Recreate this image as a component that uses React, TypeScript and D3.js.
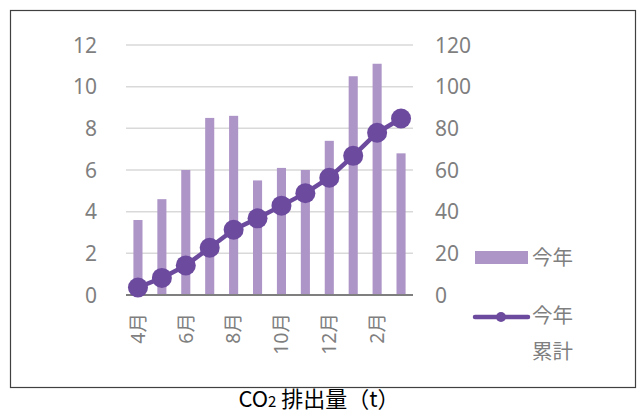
import * as d3 from 'd3';
import { useEffect, useRef } from 'react';

const months = ['4月', '5月', '6月', '7月', '8月', '9月', '10月', '11月', '12月', '1月', '2月', '3月'];
const thisYear = [3.6, 4.6, 6.0, 8.5, 8.6, 5.5, 6.1, 6.0, 7.4, 10.5, 11.1, 6.8];
const cumulative = [3.6, 8.2, 14.2, 22.7, 31.3, 36.8, 42.9, 48.9, 56.3, 66.8, 77.9, 84.7];
const leftTicks = [0, 2, 4, 6, 8, 10, 12];
const rightTicks = [0, 20, 40, 60, 80, 100, 120];
const shownMonths = ['4月', '6月', '8月', '10月', '12月', '2月'];

const FONT = '"Noto Sans", "Noto Sans CJK JP", sans-serif';
const BAR = '#ae95c8';
const LINE = '#6c4a9e';
const TEXT = '#7f7f7f';

export default function App() {
  const ref = useRef<SVGSVGElement>(null);

  useEffect(() => {
    const svg = d3.select(ref.current);
    svg.selectAll('*').remove();

    const left = 126, right = 413, top = 45, bottom = 295;

    const x = d3.scaleBand().domain(months).range([left, right]).paddingInner(0.62).paddingOuter(0.31);
    const yL = d3.scaleLinear().domain([0, 12]).range([bottom, top]);
    const yR = d3.scaleLinear().domain([0, 120]).range([bottom, top]);
    const cx = (m: string) => (x(m) as number) + x.bandwidth() / 2;

    // border
    svg.append('rect')
      .attr('x', 10.5).attr('y', 10.5)
      .attr('width', 625).attr('height', 377)
      .attr('fill', 'white').attr('stroke', '#404040').attr('stroke-width', 1.2);

    // gridlines
    svg.append('g').selectAll('line').data(leftTicks.filter(t => t > 0)).enter().append('line')
      .attr('x1', left).attr('x2', right)
      .attr('y1', d => yL(d)).attr('y2', d => yL(d))
      .attr('stroke', '#d9d9d9').attr('stroke-width', 1.5);

    // left tick labels
    svg.append('g').selectAll('text').data(leftTicks).enter().append('text')
      .attr('x', 97).attr('y', d => yL(d))
      .attr('dy', '0.36em')
      .attr('text-anchor', 'end')
      .attr('fill', TEXT).style('font-family', FONT).style('font-size', '21px')
      .text(d => d);

    // right tick labels
    svg.append('g').selectAll('text').data(rightTicks).enter().append('text')
      .attr('x', 435).attr('y', d => yR(d))
      .attr('dy', '0.36em')
      .attr('text-anchor', 'start')
      .attr('fill', TEXT).style('font-family', FONT).style('font-size', '21px')
      .text(d => d);

    // bars
    svg.append('g').selectAll('rect').data(months).enter().append('rect')
      .attr('x', d => x(d) as number)
      .attr('y', (d, i) => yL(thisYear[i]))
      .attr('width', x.bandwidth())
      .attr('height', (d, i) => bottom - yL(thisYear[i]))
      .attr('fill', BAR);

    // baseline
    svg.append('line')
      .attr('x1', left).attr('x2', right)
      .attr('y1', bottom).attr('y2', bottom)
      .attr('stroke', '#7f7f7f').attr('stroke-width', 2);

    // x labels
    svg.append('g').selectAll('text').data(shownMonths).enter().append('text')
      .attr('transform', d => `translate(${cx(d)},313) rotate(-90)`)
      .attr('dy', '0.35em')
      .attr('text-anchor', 'end')
      .attr('fill', TEXT).style('font-family', FONT).style('font-size', '19.5px')
      .text(d => d);

    // cumulative line
    const line = d3.line<number>()
      .x((d, i) => cx(months[i]))
      .y(d => yR(d));
    svg.append('path')
      .datum(cumulative)
      .attr('d', line)
      .attr('fill', 'none')
      .attr('stroke', LINE)
      .attr('stroke-width', 4.5)
      .attr('stroke-linejoin', 'round');

    svg.append('g').selectAll('circle').data(cumulative).enter().append('circle')
      .attr('cx', (d, i) => cx(months[i]))
      .attr('cy', d => yR(d))
      .attr('r', 10)
      .attr('fill', LINE);

    // legend
    const lg = svg.append('g');
    lg.append('rect').attr('x', 475).attr('y', 251).attr('width', 53).attr('height', 13).attr('fill', BAR);
    lg.append('text').attr('x', 532).attr('y', 258).attr('dy', '0.35em')
      .attr('fill', TEXT).style('font-family', FONT).style('font-size', '20.5px').text('今年');
    lg.append('line').attr('x1', 475).attr('x2', 528).attr('y1', 317).attr('y2', 317)
      .attr('stroke', LINE).attr('stroke-width', 4.5).attr('stroke-linecap', 'round');
    lg.append('circle').attr('cx', 501).attr('cy', 317).attr('r', 5).attr('fill', LINE);
    lg.append('text').attr('x', 532).attr('y', 316).attr('dy', '0.35em')
      .attr('fill', TEXT).style('font-family', FONT).style('font-size', '20.5px').text('今年');
    lg.append('text').attr('x', 532).attr('y', 352).attr('dy', '0.35em')
      .attr('fill', TEXT).style('font-family', FONT).style('font-size', '20.5px').text('累計');

    // title
    const title = svg.append('text')
      .attr('x', 319).attr('y', 406.5)
      .attr('text-anchor', 'middle')
      .attr('fill', '#000').style('font-family', '"Noto Sans CJK JP", sans-serif').style('font-size', '22px');
    title.append('tspan').text('CO');
    title.append('tspan').style('font-size', '15px').text('2');
    title.append('tspan').text(' 排出量（t）');
  }, []);

  return (
    <svg ref={ref} width={638} height={414}
      style={{ position: 'absolute', left: 0, top: 0, background: 'white' }} />
  );
}
